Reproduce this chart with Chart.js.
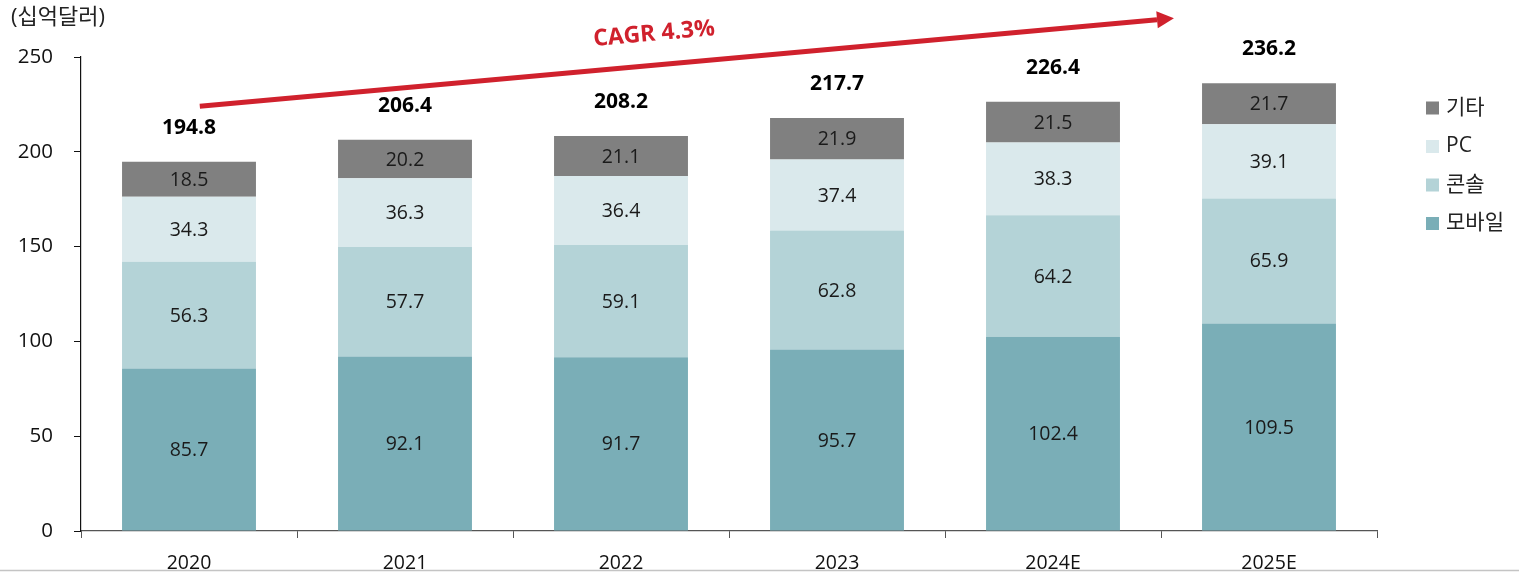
<!DOCTYPE html>
<html lang="ko">
<head>
<meta charset="utf-8">
<title>Game market by platform</title>
<script src="https://cdn.jsdelivr.net/npm/chart.js@4/dist/chart.umd.min.js"></script>
<style>
  html, body { margin: 0; padding: 0; background: #fff; }
  canvas { display: block; }
</style>
</head>
<body>
<canvas id="chart" width="1519" height="573"></canvas>
<script>
// Data (십억달러)
const years   = ['2020', '2021', '2022', '2023', '2024E', '2025E'];
const mobile  = [85.7, 92.1, 91.7, 95.7, 102.4, 109.5];
const console_ = [56.3, 57.7, 59.1, 62.8, 64.2, 65.9];
const pc      = [34.3, 36.3, 36.4, 37.4, 38.3, 39.1];
const other   = [18.5, 20.2, 21.1, 21.9, 21.5, 21.7];
const totals  = [194.8, 206.4, 208.2, 217.7, 226.4, 236.2];
const yTicks  = [0, 50, 100, 150, 200, 250];

const FONT = "'Open Sans', 'Noto Sans CJK KR', sans-serif";
const RED  = '#D0212D';

const seriesDefs = [
  { label: '모바일', data: mobile,   color: '#7AAEB7' },
  { label: '콘솔',   data: console_, color: '#B4D3D7' },
  { label: 'PC',     data: pc,       color: '#DAE9EC' },
  { label: '기타',   data: other,    color: '#808080' }
];

// Values inside each segment, totals above the stack, title, legend, CAGR arrow
const decorPlugin = {
  id: 'decor',
  afterDatasetsDraw(chart) {
    const ctx = chart.ctx;
    const x = chart.scales.x, y = chart.scales.y;

    ctx.save();
    ctx.textAlign = 'center';
    ctx.textBaseline = 'middle';

    // segment values
    ctx.font = `19.5px ${FONT}`;
    ctx.fillStyle = '#1a1a1a';
    chart.data.datasets.forEach((ds, di) => {
      chart.getDatasetMeta(di).data.forEach((bar, i) => {
        ctx.fillText(ds.data[i].toFixed(1), bar.x, (bar.y + bar.base) / 2 + 1);
      });
    });

    // totals
    const topMeta = chart.getDatasetMeta(chart.data.datasets.length - 1);
    ctx.font = `bold 21px ${FONT}`;
    ctx.fillStyle = '#000';
    topMeta.data.forEach((bar, i) => {
      ctx.fillText(totals[i].toFixed(1), bar.x, bar.y - 34);
    });

    // unit title
    ctx.textAlign = 'left';
    ctx.font = `22px ${FONT}`;
    ctx.fillStyle = '#222';
    ctx.fillText('(십억달러)', 11, 18);

    // legend (top item = top of the stack)
    ctx.font = `21px ${FONT}`;
    const legendItems = seriesDefs.slice().reverse();
    legendItems.forEach((s, i) => {
      const cy = 108 + i * 38.5;
      ctx.fillStyle = s.color;
      ctx.fillRect(1426, cy - 6.5, 13, 13);
      ctx.fillStyle = '#222';
      ctx.fillText(s.label, 1446, cy);
    });

    // CAGR arrow, placed in (category index, value) space
    const step = x.getPixelForValue(1) - x.getPixelForValue(0);
    const px = idx => x.getPixelForValue(0) + idx * step;
    const x0 = px(0.05), y0 = y.getPixelForValue(224);
    const x1 = px(4.56), y1 = y.getPixelForValue(270.5);
    const ang = Math.atan2(y1 - y0, x1 - x0);
    const headLen = 17, headW = 8.5;
    const bx = x1 - headLen * Math.cos(ang), by = y1 - headLen * Math.sin(ang);

    ctx.strokeStyle = RED;
    ctx.lineWidth = 5;
    ctx.beginPath();
    ctx.moveTo(x0, y0);
    ctx.lineTo(bx, by);
    ctx.stroke();

    ctx.fillStyle = RED;
    ctx.beginPath();
    ctx.moveTo(x1, y1);
    ctx.lineTo(bx + headW * Math.sin(ang), by - headW * Math.cos(ang));
    ctx.lineTo(bx - headW * Math.sin(ang), by + headW * Math.cos(ang));
    ctx.closePath();
    ctx.fill();

    ctx.translate(654, 34);
    ctx.rotate(ang);
    ctx.textAlign = 'center';
    ctx.font = `bold 23px ${FONT}`;
    ctx.fillText('CAGR 4.3%', 0, 0);
    ctx.restore();

    // thin grey rule at the very bottom of the picture
    ctx.save();
    ctx.strokeStyle = '#c4c4c4';
    ctx.lineWidth = 1.5;
    ctx.beginPath();
    ctx.moveTo(0, 570.5);
    ctx.lineTo(chart.width, 570.5);
    ctx.stroke();
    ctx.restore();
  }
};

new Chart(document.getElementById('chart'), {
  type: 'bar',
  data: {
    labels: years,
    datasets: seriesDefs.map(s => ({
      label: s.label,
      data: s.data,
      backgroundColor: s.color,
      borderWidth: 0,
      barPercentage: 0.62,
      categoryPercentage: 1
    }))
  },
  options: {
    responsive: false,
    animation: false,
    events: [],
    layout: { padding: { top: 57, right: 142, left: 0, bottom: 0 } },
    plugins: { legend: { display: false }, tooltip: { enabled: false } },
    scales: {
      x: {
        stacked: true,
        afterFit: s => { s.height = 42; },
        grid: { offset: true, drawOnChartArea: false, tickLength: 7, color: '#555' },
        border: { color: '#555', width: 1.2 },
        ticks: { font: { family: FONT, size: 19.5 }, color: '#111', padding: 14 }
      },
      y: {
        stacked: true,
        min: 0,
        max: 250,
        afterFit: s => { s.width = 81; },
        afterBuildTicks: s => { s.ticks = yTicks.map(v => ({ value: v })); },
        grid: { drawOnChartArea: false, tickLength: 7, color: '#111' },
        border: { color: '#111', width: 1.2 },
        ticks: { font: { family: FONT, size: 20.5 }, color: '#111', padding: 21 }
      }
    }
  },
  plugins: [decorPlugin]
});
</script>
</body>
</html>
